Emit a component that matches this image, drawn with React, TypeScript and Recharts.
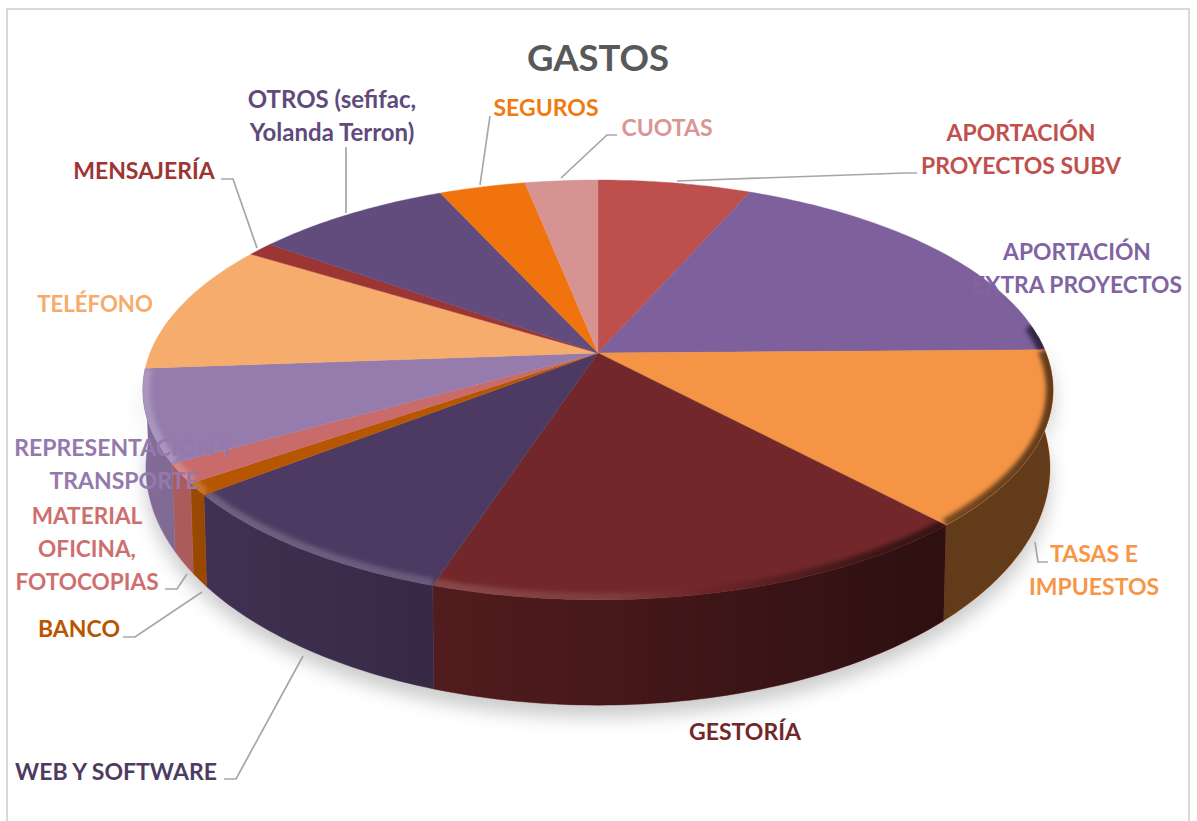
import React from "react";
import { PieChart, Pie } from "recharts";

// ---- data (share of total, %) ----
const categories = [
  "APORTACIÓN PROYECTOS SUBV",
  "APORTACIÓN EXTRA PROYECTOS",
  "TASAS E IMPUESTOS",
  "GESTORÍA",
  "WEB Y SOFTWARE",
  "BANCO",
  "MATERIAL OFICINA, FOTOCOPIAS",
  "REPRESENTACIÓN Y TRANSPORTE",
  "TELÉFONO",
  "MENSAJERÍA",
  "OTROS (sefifac, Yolanda Terron)",
  "SEGUROS",
  "CUOTAS",
];
const values = [6.44, 18.31, 13.44, 16.78, 9.36, 0.9, 1.49, 7.11, 10.08, 1.11, 8.28, 3.64, 3.06];
const sliceColors = [
  "#bd4f4c", "#7e609c", "#f49444", "#72272a", "#4d3a62", "#b65600", "#c96b6a",
  "#957cad", "#f6ac6c", "#9b3634", "#624c7e", "#f1730e", "#d69392",
];
const labelColors = [
  "#c0504d", "#8064a2", "#f79646", "#72272a", "#4d3b62", "#b85600", "#ce6f6d",
  "#9579ad", "#f6ab6b", "#9c3533", "#604a7b", "#f17a10", "#d99694",
];
const labelLines = [
  ["APORTACIÓN", "PROYECTOS SUBV"],
  ["APORTACIÓN", "EXTRA PROYECTOS"],
  ["TASAS E", "IMPUESTOS"],
  ["GESTORÍA"],
  ["WEB Y SOFTWARE"],
  ["BANCO"],
  ["MATERIAL", "OFICINA,", "FOTOCOPIAS"],
  ["REPRESENTACIÓN Y", "TRANSPORTE"],
  ["TELÉFONO"],
  ["MENSAJERÍA"],
  ["OTROS (sefifac,", "Yolanda Terron)"],
  ["SEGUROS"],
  ["CUOTAS"],
];
const chartTitle = "GASTOS";

// ---- layout only ----
const labelAnchor = [
  [1021, 141], [1077, 260], [1094, 562], [745, 740], [116, 780], [79, 637], [87, 524],
  [124, 456], [95, 312], [144, 179], [332, 108], [546, 116], [667, 136],
];
const labelSize = [23, 22.8, 23, 23, 23, 23, 22.6, 23, 22.2, 23, 24, 23, 23];
const labelAdvance = 32.8;
const leaders: (number[][] | null)[] = [
  [[677, 181], [905, 173], [917, 173]],
  null,
  [[1035, 542], [1038, 562], [1048, 562]],
  null,
  [[303, 656], [236, 779], [224, 779]],
  [[202, 592], [135, 637], [123, 637]],
  [[187, 574], [177, 589], [165, 589]],
  null,
  null,
  [[257, 248], [233, 179], [221, 179]],
  [[346, 213], [346, 147]],
  [[480, 185], [490, 116]],
  [[561, 178], [607, 135], [617, 135]],
];

const data = categories.map((name, i) => ({ name, value: values[i], fill: sliceColors[i] }));

const FONT = "Lato, Carlito, sans-serif";
const CX = 598, CY = 353, RY = 203.4;
const X_STRETCH = 448 / 203.4;
const PERSP = 0.176;
const FLOOR_DY = 426 - 353;
const FLOOR_RX = 445 / 203.4;
const FLOOR_RY = 230 / 203.4;

const RAD = Math.PI / 180;
const project = (cx: number, cy: number, rx: number, ry: number, deg: number, r = 1) => {
  const u = r * Math.cos(deg * RAD);
  const v = -r * Math.sin(deg * RAD);
  const s = 1 / (1 - PERSP * v);
  return [cx + rx * u * s, cy + ry * v * s];
};
const arc = (cx: number, cy: number, rx: number, ry: number, a: number, b: number, r = 1) => {
  const n = Math.max(2, Math.ceil(Math.abs(a - b)));
  const out: number[][] = [];
  for (let i = 0; i <= n; i++) out.push(project(cx, cy, rx, ry, a + ((b - a) * i) / n, r));
  return out;
};
const toPath = (pts: number[][], close = false) =>
  pts.map((p, i) => `${i ? "L" : "M"}${p[0].toFixed(2)},${p[1].toFixed(2)}`).join(" ") + (close ? " Z" : "");

const WallShape = (p: any) => {
  const { cx, cy, outerRadius: R, startAngle, endAngle, fill } = p;
  // only the part of the side that faces the viewer is drawn
  const a = Math.min(startAngle, 5);
  const b = Math.max(endAngle, -175.7);
  if (a <= b) return <g />;
  const top = arc(cx, cy, R * X_STRETCH, R, a, b);
  const floor = arc(cx, cy + FLOOR_DY, R * FLOOR_RX, R * FLOOR_RY, b, a);
  const d = toPath([...top, ...floor], true);
  return (
    <g>
      <path d={d} fill={fill} stroke={fill} strokeWidth={0.5} />
      <path d={d} fill="url(#wallShade)" />
    </g>
  );
};

const TopShape = (p: any) => {
  const { cx, cy, outerRadius: R, startAngle, endAngle, fill } = p;
  const rx = R * X_STRETCH;
  const rim = arc(cx, cy, rx, R, startAngle, endAngle);
  const face = toPath([[cx, cy], ...rim], true);
  // bevel runs only along the part of the rim that faces the viewer
  const from = Math.min(startAngle, 8);
  const to = Math.max(endAngle, -176);
  const bevel = from > to ? arc(cx, cy, rx, R, from, to, 1) : null;
  const clipId = `face-${Math.round(startAngle * 100)}`.replace("-", "m");
  return (
    <g>
      <path d={face} fill={fill} stroke={fill} strokeWidth={0.4} />
      {bevel && (
        <>
          <clipPath id={clipId}>
            <path d={face} />
          </clipPath>
          <g clipPath={`url(#${clipId})`}>
            <path
              d={toPath(bevel)}
              fill="none"
              stroke="url(#bevelShade)"
              strokeWidth={14}
              filter="url(#bevelBlur)"
            />
          </g>
        </>
      )}
    </g>
  );
};

const renderLabel = (p: any) => {
  const i = p.index;
  const [x, y] = labelAnchor[i];
  const pts = leaders[i];
  return (
    <g key={i}>
      {pts && (
        <polyline
          points={pts.map((q) => q.join(",")).join(" ")}
          fill="none"
          stroke="#a6a6a6"
          strokeWidth={1.7}
        />
      )}
      {labelLines[i].map((t, j) => (
        <text
          key={j}
          x={x}
          y={y + j * labelAdvance}
          textAnchor="middle"
          fontFamily={FONT}
          fontWeight={700}
          fontSize={labelSize[i]}
          fill={labelColors[i]}
        >
          {t}
        </text>
      ))}
    </g>
  );
};

export default function App() {
  return (
    <div style={{ position: "absolute", left: 0, top: 0, width: 1197, height: 821, background: "#fff", overflow: "hidden" }}>
      <style>{`.wall-layer{filter:drop-shadow(0 12px 9px rgba(0,0,0,.2));}`}</style>
      <PieChart width={1197} height={821} margin={{ top: 0, right: 0, bottom: 0, left: 0 }}>
        <defs>
          <linearGradient id="wallShade" gradientUnits="userSpaceOnUse" x1="143" y1="0" x2="1053" y2="0">
            <stop offset="0" stopColor="#000" stopOpacity="0.12" />
            <stop offset="0.06" stopColor="#000" stopOpacity="0.16" />
            <stop offset="0.32" stopColor="#000" stopOpacity="0.29" />
            <stop offset="0.5" stopColor="#000" stopOpacity="0.38" />
            <stop offset="0.87" stopColor="#000" stopOpacity="0.6" />
            <stop offset="1" stopColor="#000" stopOpacity="0.6" />
          </linearGradient>
          <linearGradient id="bevelShade" gradientUnits="userSpaceOnUse" x1="143" y1="0" x2="1053" y2="0">
            <stop offset="0" stopColor="#fff" stopOpacity="0.2" />
            <stop offset="0.3" stopColor="#fff" stopOpacity="0.16" />
            <stop offset="0.52" stopColor="#fff" stopOpacity="0.09" />
            <stop offset="0.6" stopColor="#fff" stopOpacity="0" />
            <stop offset="0.6" stopColor="#000" stopOpacity="0" />
            <stop offset="0.8" stopColor="#000" stopOpacity="0.45" />
            <stop offset="1" stopColor="#000" stopOpacity="0.6" />
          </linearGradient>
          <filter id="bevelBlur" filterUnits="userSpaceOnUse" x="0" y="0" width="1197" height="821">
            <feGaussianBlur stdDeviation="2.2" />
          </filter>
        </defs>
        <rect x={7} y={9} width={1182} height={830} fill="#fff" stroke="#d9d9d9" strokeWidth={2} />
        <text x={598} y={71} textAnchor="middle" fontFamily={FONT} fontWeight={700} fontSize={36.5} fill="#595959">
          {chartTitle}
        </text>
        <Pie
          className="wall-layer"
          data={data}
          dataKey="value"
          nameKey="name"
          cx={CX}
          cy={CY}
          innerRadius={0}
          outerRadius={RY}
          startAngle={90}
          endAngle={-270}
          paddingAngle={0}
          stroke="none"
          isAnimationActive={false}
          shape={WallShape}
        />
        <Pie
          data={data}
          dataKey="value"
          nameKey="name"
          cx={CX}
          cy={CY}
          innerRadius={0}
          outerRadius={RY}
          startAngle={90}
          endAngle={-270}
          paddingAngle={0}
          stroke="none"
          isAnimationActive={false}
          shape={TopShape}
          label={renderLabel}
          labelLine={false}
        />
      </PieChart>
    </div>
  );
}
